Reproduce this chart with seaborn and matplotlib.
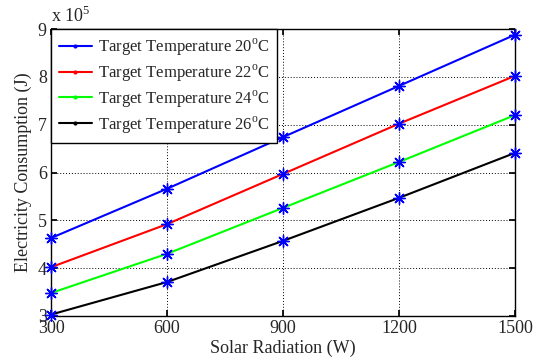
import matplotlib
matplotlib.use("Agg")
import matplotlib.pyplot as plt
import seaborn as sns
import pandas as pd
import numpy as np
from matplotlib.ticker import FuncFormatter

solar = [300, 600, 900, 1200, 1500]
t20 = [4.63e5, 5.66e5, 6.74e5, 7.81e5, 8.88e5]
t22 = [4.02e5, 4.92e5, 5.97e5, 7.02e5, 8.02e5]
t24 = [3.48e5, 4.30e5, 5.26e5, 6.22e5, 7.20e5]
t26 = [3.03e5, 3.71e5, 4.57e5, 5.47e5, 6.41e5]
labels = ["Target Temperature 20$^{\\rm o}$C", "Target Temperature 22$^{\\rm o}$C",
          "Target Temperature 24$^{\\rm o}$C", "Target Temperature 26$^{\\rm o}$C"]
colors = ["#0000ff", "#ff0000", "#00ff00", "#000000"]

rows = []
for lab, ser in zip(labels, [t20, t22, t24, t26]):
    for x, y in zip(solar, ser):
        rows.append({"Solar": x, "E": y, "Series": lab})
df = pd.DataFrame(rows)

sns.set_theme(style="white")
plt.rcParams['font.family'] = ['Liberation Serif', 'DejaVu Serif']
plt.rcParams['mathtext.fontset'] = 'custom'
plt.rcParams['mathtext.rm'] = 'Liberation Serif'

fig = plt.figure(figsize=(5.46, 3.6), dpi=100)
ax = fig.add_axes([51/546, 1 - 316/360, (515 - 51)/546, (316 - 29)/360])

sns.lineplot(data=df, x="Solar", y="E", hue="Series", palette=colors, marker="o",
             markersize=3, markeredgewidth=0, linewidth=1.5, ax=ax, legend=True)
sns.scatterplot(data=df, x="Solar", y="E", marker=(8, 2, 0), s=70, color="#0000ff",
                linewidth=1.0, edgecolor="#0000ff", ax=ax, legend=False, zorder=5,
                clip_on=False)

ax.set_xlim(300, 1500)
ax.set_ylim(3e5, 9e5)
ax.set_xticks(solar)
ax.set_yticks(np.arange(3e5, 9.01e5, 1e5))
ax.yaxis.set_major_formatter(FuncFormatter(lambda v, p: f"{v/1e5:.0f}"))
ax.grid(True, color="black", linestyle=(0, (1, 2)), linewidth=0.7)
for s in ax.spines.values():
    s.set_color("black")
    s.set_linewidth(1.0)
ax.tick_params(axis="both", direction="in", length=4, color="black", labelsize=13,
               bottom=True, left=True, top=True, right=True, pad=3)
ax.set_xlabel("Solar Radiation (W)", fontsize=13, labelpad=2)
ax.set_ylabel("Electricity Consumption (J)", fontsize=13, labelpad=4)
ax.text(0.0, 1.01, "x 10$^{5}$", transform=ax.transAxes, fontsize=13, ha="left", va="bottom")

leg = ax.legend(loc="upper left", fontsize=12, frameon=True, fancybox=False,
                edgecolor="black", framealpha=1, borderaxespad=0.0, handlelength=2.0,
                handletextpad=0.35, labelspacing=0.27, borderpad=0.45)
leg.get_frame().set_linewidth(1.0)

fig.savefig("out.png", dpi=100)
